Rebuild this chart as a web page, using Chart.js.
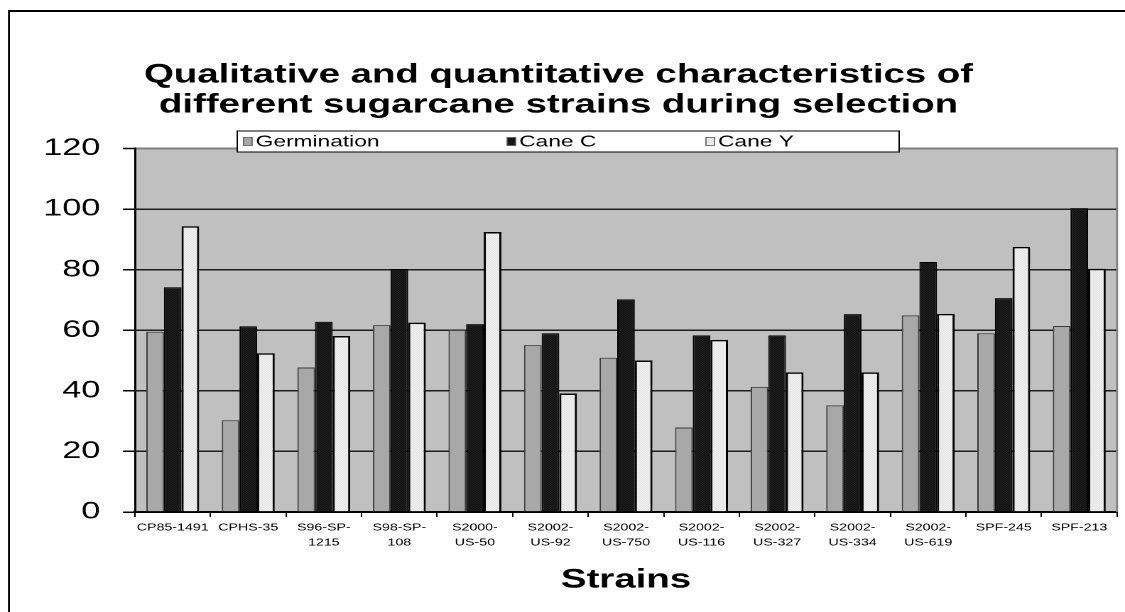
<!DOCTYPE html>
<html>
<head>
<meta charset="utf-8">
<script src="https://cdn.jsdelivr.net/npm/chart.js@4.4.1/dist/chart.umd.min.js"></script>
<style>
  html, body { margin: 0; padding: 0; background: #fff; overflow: hidden; }
</style>
</head>
<body>
<!-- The drawing surface is laid out narrow and shown widened, giving the broad lettering of the chart -->
<canvas id="chart" width="792" height="612" style="width:1125px;height:612px;display:block"></canvas>
<script>
// Strain names (two-line labels where the name wraps)
const strains = [
  ['CP85-1491'], ['CPHS-35'], ['S96-SP-', '1215'], ['S98-SP-', '108'],
  ['S2000-', 'US-50'], ['S2002-', 'US-92'], ['S2002-', 'US-750'], ['S2002-', 'US-116'],
  ['S2002-', 'US-327'], ['S2002-', 'US-334'], ['S2002-', 'US-619'], ['SPF-245'], ['SPF-213']
];

// Series values
const germination = [59.5, 30.3, 47.7, 61.7, 60.1, 55.1, 50.9, 27.9, 41.3, 35.2, 64.9, 59.0, 61.4];
const caneC       = [74.2, 61.3, 62.8, 80.2, 62.0, 59.0, 70.2, 58.3, 58.3, 65.3, 82.5, 70.6, 100.3];
const caneY       = [94.3, 52.4, 58.1, 62.5, 92.4, 39.1, 50.0, 56.8, 46.1, 46.1, 65.4, 87.5, 80.3];

// Value axis ticks
const yTicks = [0, 20, 40, 60, 80, 100, 120];

const seriesNames = ['Germination', 'Cane C', 'Cane Y'];
const FONT = "'Liberation Sans', Arial, Helvetica, sans-serif";

// Stippled fills for the bars
function stipple(a, b) {
  const c = document.createElement('canvas');
  c.width = 2; c.height = 2;
  const g = c.getContext('2d');
  g.fillStyle = a; g.fillRect(0, 0, 2, 2);
  g.fillStyle = b; g.fillRect(0, 0, 1, 1); g.fillRect(1, 1, 1, 1);
  return g.createPattern(c, 'repeat');
}
const fills = [
  stipple('#9c9c9c', '#b4b4b4'),
  stipple('#000000', '#303030'),
  stipple('#ffffff', '#d6d6d6')
];
const edges = ['#3c3c3c', '#000000', '#000000'];
const edgeWidths = [1, 1, 1.5];

// Page frame, plot background, plot border and boxed legend
const decorations = {
  id: 'decorations',
  beforeDraw(chart) {
    const { ctx, chartArea: a } = chart;
    ctx.save();
    ctx.fillStyle = '#fff';
    ctx.fillRect(0, 0, chart.width, chart.height);
    ctx.fillStyle = '#c0c0c0';
    ctx.fillRect(a.left, a.top, a.right - a.left, a.bottom - a.top);
    // outer frame (top and left edges)
    ctx.strokeStyle = '#000';
    ctx.lineWidth = 2;
    ctx.beginPath(); ctx.moveTo(6.3, 11); ctx.lineTo(chart.width, 11); ctx.stroke();
    ctx.lineWidth = 1.4;
    ctx.beginPath(); ctx.moveTo(6.3, 10); ctx.lineTo(6.3, chart.height); ctx.stroke();
    ctx.restore();
  },
  afterDraw(chart) {
    const { ctx, chartArea: a } = chart;
    ctx.save();
    // right edge of plot
    ctx.strokeStyle = '#808080';
    ctx.lineWidth = 1.4;
    ctx.beginPath(); ctx.moveTo(a.right, a.top - 1); ctx.lineTo(a.right, a.bottom); ctx.stroke();

    // legend
    const box = { x: 167, y: 131, w: 466, h: 21 };
    ctx.fillStyle = '#fff';
    ctx.fillRect(box.x, box.y, box.w, box.h);
    ctx.strokeStyle = '#000';
    ctx.lineWidth = 1;
    ctx.strokeRect(box.x, box.y, box.w, box.h);
    const markX = [171.5, 357, 497];
    const cy = box.y + box.h / 2;
    ctx.font = `16px ${FONT}`;
    ctx.textBaseline = 'middle';
    ctx.textAlign = 'left';
    chart.data.datasets.forEach((ds, i) => {
      ctx.fillStyle = fills[i];
      ctx.fillRect(markX[i], cy - 4, 6, 8);
      ctx.strokeStyle = '#555';
      ctx.lineWidth = 0.8;
      ctx.strokeRect(markX[i], cy - 4, 6, 8);
      ctx.fillStyle = '#000';
      ctx.fillText(ds.label, markX[i] + 8.5, cy + 0.5);
    });
    ctx.restore();
  }
};

new Chart(document.getElementById('chart'), {
  type: 'bar',
  data: {
    labels: strains,
    datasets: [germination, caneC, caneY].map((values, i) => ({
      label: seriesNames[i],
      data: values,
      backgroundColor: fills[i],
      borderColor: edges[i],
      borderWidth: edgeWidths[i],
      categoryPercentage: 0.7,
      barPercentage: 1.0
    }))
  },
  options: {
    responsive: false,
    animation: false,
    devicePixelRatio: 2,
    layout: { padding: { left: 0, right: 5.6, top: 0, bottom: 0 } },
    plugins: {
      legend: { display: false },
      tooltip: { enabled: false },
      title: {
        display: true,
        text: ['Qualitative and quantitative characteristics of',
               'different sugarcane strains during selection'],
        color: '#000',
        font: { family: FONT, size: 27, weight: 'bold', lineHeight: 1.11 },
        padding: { top: 60, bottom: 28.5 }
      }
    },
    scales: {
      y: {
        min: 0,
        max: 120,
        afterBuildTicks: s => { s.ticks = yTicks.map(v => ({ value: v })); },
        afterFit: s => { s.width = 95; },
        ticks: { color: '#000', font: { family: FONT, size: 24 }, padding: 16 },
        grid: {
          color: c => (c.tick && c.tick.value === 120 ? '#808080' : '#1e1e1e'),
          lineWidth: c => (c.tick && c.tick.value === 120 ? 2 : 1.5),
          tickColor: '#000',
          tickLength: 8.4,
          tickWidth: 1.5
        },
        border: { color: '#000', width: 1.5 }
      },
      x: {
        afterFit: s => { s.height = 100; },
        ticks: { color: '#000', font: { family: FONT, size: 10, lineHeight: 1.5 }, padding: 3, maxRotation: 0, autoSkip: false },
        grid: { offset: true, drawOnChartArea: false, drawTicks: true, tickLength: 5, color: '#000', lineWidth: 1 },
        border: { color: '#000', width: 2 },
        title: {
          display: true,
          text: 'Strains',
          color: '#000',
          font: { family: FONT, size: 27, weight: 'bold', lineHeight: 1.2 },
          padding: { top: 0, bottom: 16 }
        }
      }
    }
  },
  plugins: [decorations]
});
</script>
</body>
</html>
